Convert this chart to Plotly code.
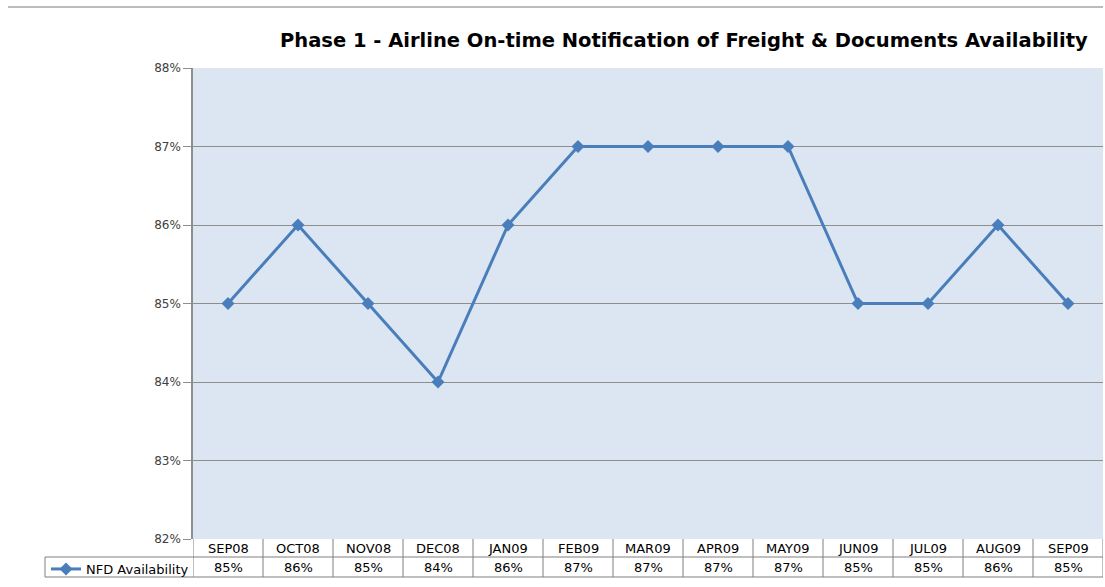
import plotly.graph_objects as go

months = ["SEP08", "OCT08", "NOV08", "DEC08", "JAN09", "FEB09", "MAR09",
          "APR09", "MAY09", "JUN09", "JUL09", "AUG09", "SEP09"]
nfd_availability = [85, 86, 85, 84, 86, 87, 87, 87, 87, 85, 85, 86, 85]
series_name = "NFD Availability"
y_ticks = [82, 83, 84, 85, 86, 87, 88]
title = "Phase 1 - Airline On-time Notification of Freight & Documents Availability"

W, H = 1105, 587
L, R, T, B = 193, 2, 68, 48
PH = H - T - B
PW = W - L - R

def py(px):  # pixel y -> paper y
    return (H - B - px) / PH

def pxx(px):  # pixel x -> paper x
    return (px - L) / PW

blue = "#4A7EBB"
grid = "#8E8E8E"
tcol = "#404040"
font = "DejaVu Sans"

fig = go.Figure()
fig.add_trace(go.Scatter(
    x=months, y=nfd_availability, mode="lines+markers", name=series_name,
    line=dict(color=blue, width=3),
    marker=dict(symbol="diamond", size=10, color=blue),
))

shapes = []
# top separator line
shapes.append(dict(type="line", xref="paper", yref="paper",
                   x0=pxx(8), x1=1.0, y0=py(7), y1=py(7),
                   line=dict(color="#A6A6A6", width=1.5)))
# table lines
r1, r2 = py(557), py(577)
tl = dict(color="#7F7F7F", width=1)
shapes.append(dict(type="line", xref="paper", yref="paper", x0=0, x1=1, y0=r1, y1=r1, line=tl))
shapes.append(dict(type="line", xref="paper", yref="paper", x0=pxx(45), x1=1, y0=r2, y1=r2, line=tl))
shapes.append(dict(type="line", xref="paper", yref="paper", x0=pxx(45), x1=0, y0=r1, y1=r1, line=tl))
shapes.append(dict(type="line", xref="paper", yref="paper", x0=pxx(45), x1=pxx(45), y0=r1, y1=r2, line=tl))
for i in range(len(months) + 1):
    shapes.append(dict(type="line", xref="x", yref="paper", x0=i - 0.5, x1=i - 0.5,
                       y0=0, y1=r2, line=tl))

annotations = []
for i, (m, v) in enumerate(zip(months, nfd_availability)):
    annotations.append(dict(x=m, y=py(548), xref="x", yref="paper", text=m,
                            xanchor="center", yanchor="middle",
                            showarrow=False, font=dict(size=13, color="#000000", family=font)))
    annotations.append(dict(x=m, y=py(567), xref="x", yref="paper", text=f"{v}%",
                            xanchor="center", yanchor="middle",
                            showarrow=False, font=dict(size=13, color="#000000", family=font)))

annotations.append(dict(x=pxx(684), y=py(40), xref="paper", yref="paper",
                        xanchor="center", yanchor="middle",
                        text=f"<b>{title}</b>", showarrow=False,
                        font=dict(size=19.5, color="#000000", family=font)))

fig.update_layout(
    width=W, height=H,
    margin=dict(l=L, r=R, t=T, b=B),
    paper_bgcolor="white",
    plot_bgcolor="#DCE6F2",
    font=dict(family=font, color=tcol, size=12),
    showlegend=True,
    legend=dict(x=pxx(46), y=py(554), xanchor="left", yanchor="top",
                bgcolor="rgba(0,0,0,0)", borderwidth=0,
                font=dict(size=13, color="#000000", family=font),
                itemwidth=30, tracegroupgap=0),
    xaxis=dict(type="category", range=[-0.5, len(months) - 0.5],
               showticklabels=False, showgrid=False, zeroline=False,
               showline=False, ticks=""),
    yaxis=dict(range=[82, 88], tickvals=y_ticks, ticktext=[f"{t}%" for t in y_ticks],
               showgrid=True, gridcolor=grid, gridwidth=1,
               showline=True, linecolor=grid, linewidth=1.5,
               ticks="outside", ticklen=8, tickcolor=grid,
               zeroline=False, tickfont=dict(size=12, color=tcol)),
    shapes=shapes,
    annotations=annotations,
)

fig.write_html("out.html", config={"displayModeBar": False},
               post_script="document.body.style.margin='0';")
